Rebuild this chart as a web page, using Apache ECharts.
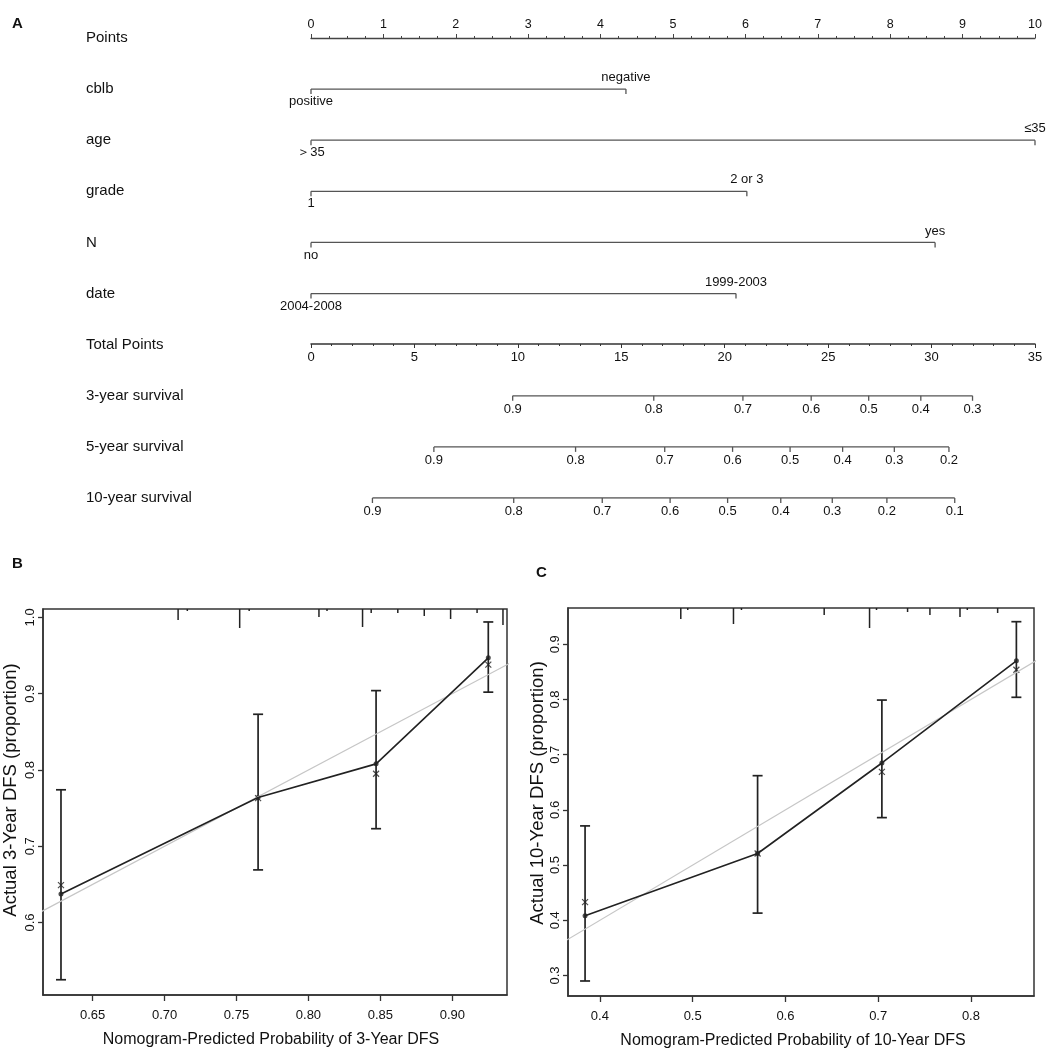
<!DOCTYPE html>
<html><head><meta charset="utf-8">
<script src="https://cdn.jsdelivr.net/npm/echarts@6/dist/echarts.min.js"></script>
<style>html,body{margin:0;padding:0;background:#fff}#c{width:1062px;height:1058px}</style>
</head><body><div id="c"></div>
<script>
// ---------- Panel A: nomogram ----------
const rowNames = ['Points','cblb','age','grade','N','date','Total Points','3-year survival','5-year survival','10-year survival'];
const varNames = ['cblb','age','grade','N','date'];
const varPoints = [4.35, 10, 6.02, 8.62, 5.87];
const varLowLabels = ['positive','＞35','1','no','2004-2008'];
const varHighLabels = ['negative','≤35','2 or 3','yes','1999-2003'];

const surv3Prob = [0.9,0.8,0.7,0.6,0.5,0.4,0.3];
const surv3Pts  = [9.75,16.57,20.88,24.18,26.96,29.48,31.98];
const surv5Prob = [0.9,0.8,0.7,0.6,0.5,0.4,0.3,0.2];
const surv5Pts  = [5.94,12.79,17.10,20.38,23.16,25.70,28.20,30.84];
const surv10Prob = [0.9,0.8,0.7,0.6,0.5,0.4,0.3,0.2,0.1];
const surv10Pts  = [2.97,9.80,14.08,17.36,20.14,22.71,25.20,27.84,31.12];

// ---------- Panel B: 3-year calibration ----------
const predB = [0.628, 0.765, 0.847, 0.925];
const obsB  = [0.6375, 0.764, 0.808, 0.947];
const corrB = [0.649, 0.763, 0.795, 0.938];
const loB   = [0.525, 0.669, 0.723, 0.902];
const hiB   = [0.774, 0.873, 0.904, 0.994];
const rugXB = [0.7094,0.7158,0.7522,0.7588,0.8073,0.8129,0.8376,0.8436,0.8621,0.8805,0.8988,0.9172,0.9352];
const rugFB = [11,2,19,2,8,2,18,4,4,7,10,4,16];
const xTicksB = [0.65,0.70,0.75,0.80,0.85,0.90];
const yTicksB = [0.6,0.7,0.8,0.9,1.0];

// ---------- Panel C: 10-year calibration ----------
const predC = [0.384, 0.570, 0.704, 0.849];
const obsC  = [0.408, 0.521, 0.685, 0.870];
const corrC = [0.433, 0.521, 0.669, 0.854];
const loC   = [0.290, 0.413, 0.586, 0.804];
const hiC   = [0.571, 0.662, 0.799, 0.941];
const rugXC = [0.4872,0.4947,0.5440,0.5526,0.6418,0.6907,0.6982,0.7317,0.7558,0.7882,0.7961,0.8288];
const rugFC = [11,2,16,2,7,20,2,4,7,9,2,5];
const xTicksC = [0.4,0.5,0.6,0.7,0.8];
const yTicksC = [0.3,0.4,0.5,0.6,0.7,0.8,0.9];

const FONT = 'Liberation Sans, Arial, Helvetica, sans-serif';
const INK = '#111';
const NOMO = '#555';

const chart = echarts.init(document.getElementById('c'), null, {renderer:'canvas'});

const series = [];

// variable rows
varNames.forEach((nm, i) => {
  series.push({
    type:'line', xAxisIndex:0, yAxisIndex:0, silent:true, animation:false,
    symbol:'rect', symbolSize:[1.3,5], symbolOffset:[0,2.5],
    itemStyle:{color:NOMO}, lineStyle:{color:NOMO, width:1.3},
    label:{color:INK, fontFamily:FONT, fontSize:13},
    data:[
      {value:[0, nm], label:{show:true, position:'bottom', distance:1, formatter:varLowLabels[i]}},
      {value:[varPoints[i], nm], label:{show:true, position:'top', distance:5, formatter:varHighLabels[i]}}
    ]
  });
});

// survival rows
[[surv3Pts,surv3Prob,'3-year survival'],[surv5Pts,surv5Prob,'5-year survival'],[surv10Pts,surv10Prob,'10-year survival']].forEach(([pts,prob,row]) => {
  series.push({
    type:'line', xAxisIndex:1, yAxisIndex:0, silent:true, animation:false,
    symbol:'rect', symbolSize:[1.3,5], symbolOffset:[0,2.5],
    itemStyle:{color:NOMO}, lineStyle:{color:NOMO, width:1.3},
    label:{show:true, position:'bottom', distance:2, color:INK, fontFamily:FONT, fontSize:13,
      formatter:p => p.value[2].toFixed(1)},
    data: pts.map((p,k) => [p, row, prob[k]])
  });
});

function calSeries(xi, yi, pred, obs, corr, lo, hi, rugX, rugF) {
  const out = [];
  out.push({type:'line', xAxisIndex:xi, yAxisIndex:yi, silent:true, animation:false, symbol:'none',
    lineStyle:{color:'#c6c6c6', width:1.2}, data:[[0,0],[1,1]]});
  out.push({type:'line', xAxisIndex:xi, yAxisIndex:yi, silent:true, animation:false, symbol:'none',
    lineStyle:{color:'#222', width:1.6}, data: pred.map((x,k)=>[x, obs[k]])});
  out.push({type:'custom', xAxisIndex:xi, yAxisIndex:yi, silent:true, animation:false,
    encode:{x:0, y:[1,2]},
    data: pred.map((x,k)=>[x, lo[k], hi[k]]),
    renderItem:(params, api) => {
      const x = api.value(0);
      const a = api.coord([x, api.value(1)]);
      const b = api.coord([x, api.value(2)]);
      const w = 5;
      const st = {stroke:'#222', lineWidth:1.7};
      return {type:'group', children:[
        {type:'line', shape:{x1:a[0], y1:a[1], x2:b[0], y2:b[1]}, style:st},
        {type:'line', shape:{x1:a[0]-w, y1:a[1], x2:a[0]+w, y2:a[1]}, style:st},
        {type:'line', shape:{x1:b[0]-w, y1:b[1], x2:b[0]+w, y2:b[1]}, style:st}
      ]};
    }});
  out.push({type:'scatter', xAxisIndex:xi, yAxisIndex:yi, silent:true, animation:false,
    symbol:'circle', symbolSize:5, itemStyle:{color:'#222'}, data: pred.map((x,k)=>[x, obs[k]])});
  out.push({type:'scatter', xAxisIndex:xi, yAxisIndex:yi, silent:true, animation:false,
    symbol:'path://M0,0L10,10M10,0L0,10', symbolSize:6,
    itemStyle:{color:'none', borderColor:'#222', borderWidth:1.2}, data: pred.map((x,k)=>[x, corr[k]])});
  out.push({type:'custom', xAxisIndex:xi, yAxisIndex:yi, silent:true, animation:false,
    encode:{x:0},
    data: rugX.map((x,k)=>[x, rugF[k]]),
    renderItem:(params, api) => {
      const top = params.coordSys.y;
      const px = api.coord([api.value(0), 0.5])[0];
      return {type:'line', shape:{x1:px, y1:top, x2:px, y2:top+api.value(1)}, style:{stroke:'#222', lineWidth:1.5}};
    }});
  return out;
}
series.push(...calSeries(3, 2, predB, obsB, corrB, loB, hiB, rugXB, rugFB));
series.push(...calSeries(4, 3, predC, obsC, corrC, loC, hiC, rugXC, rugFC));

function calX(grid, min, max, ticks, dec, name, shift) {
  return {gridIndex:grid, type:'value', min:min, max:max,
    axisLine:{show:true, lineStyle:{color:'#333', width:1.5}},
    axisTick:{show:true, customValues:ticks, length:6, lineStyle:{color:'#333', width:1.3}},
    axisLabel:{customValues:ticks, formatter:v=>v.toFixed(dec), margin:14, fontSize:13, color:INK, fontFamily:FONT},
    splitLine:{show:false},
    name:name, nameLocation:'middle', nameGap:37,
    nameTextStyle:{fontSize:16, color:INK, fontFamily:FONT, padding:[0, shift, 0, 0]}};
}
function calY(grid, min, max, ticks, name, gap, shift) {
  return {gridIndex:grid, type:'value', min:min, max:max,
    axisLine:{show:true, lineStyle:{color:'#333', width:1.5}},
    axisTick:{show:true, customValues:ticks, length:5, lineStyle:{color:'#333', width:1.3}},
    axisLabel:{customValues:ticks, formatter:v=>v.toFixed(1), rotate:90, margin:6, fontSize:13, color:INK, fontFamily:FONT},
    splitLine:{show:false},
    name:name, nameLocation:'middle', nameGap:gap,
    nameTextStyle:{fontSize:18.5, color:INK, fontFamily:FONT, padding:[0, 0, 0, shift]}};
}

const option = {
  backgroundColor:'#fff',
  animation:false,
  textStyle:{fontFamily:FONT},
  graphic:[
    {type:'text', left:12, top:16, style:{text:'A', font:'bold 15px '+FONT, fill:INK}},
    {type:'text', left:12, top:556, style:{text:'B', font:'bold 15px '+FONT, fill:INK}},
    {type:'text', left:536, top:565, style:{text:'C', font:'bold 15px '+FONT, fill:INK}}
  ],
  grid:[
    {left:311, right:27, top:38, height:460},
    {left:311, right:27, top:343, height:1},
    {left:42, top:609, width:465, height:386, show:true, borderColor:'#333', borderWidth:1.5},
    {left:568, top:608, width:466, height:388, show:true, borderColor:'#333', borderWidth:1.5}
  ],
  xAxis:[
    {gridIndex:0, type:'value', position:'top', min:0, max:10, interval:1,
      axisLine:{show:true, onZero:false, lineStyle:{color:'#444', width:1.3}},
      axisTick:{show:true, length:4, lineStyle:{color:'#444'}},
      minorTick:{show:true, splitNumber:4, length:2, lineStyle:{color:'#444'}},
      axisLabel:{margin:7, fontSize:12.5, color:INK, fontFamily:FONT},
      splitLine:{show:false}},
    {gridIndex:0, type:'value', min:0, max:35, show:false},
    {gridIndex:1, type:'value', position:'bottom', min:0, max:35, interval:5,
      axisLine:{show:true, onZero:false, lineStyle:{color:'#333', width:1.5}},
      axisTick:{show:true, length:4, lineStyle:{color:'#333'}},
      minorTick:{show:true, splitNumber:5, length:2, lineStyle:{color:'#333'}},
      axisLabel:{margin:7, fontSize:13, color:INK, fontFamily:FONT},
      splitLine:{show:false}},
    calX(2, 0.6155, 0.938, xTicksB, 2, 'Nomogram-Predicted Probability of 3-Year DFS', 8),
    calX(3, 0.3656, 0.868, xTicksC, 1, 'Nomogram-Predicted Probability of 10-Year DFS', 16)
  ],
  yAxis:[
    {gridIndex:0, type:'category', data:rowNames, inverse:true, boundaryGap:false,
      axisLine:{show:false}, axisTick:{show:false}, splitLine:{show:false},
      axisLabel:{interval:0, align:'left', margin:225, fontSize:15, color:INK, fontFamily:FONT}},
    {gridIndex:1, type:'value', show:false, min:0, max:1},
    calY(2, 0.505, 1.011, yTicksB, 'Actual 3-Year DFS (proportion)', 23, 24),
    calY(3, 0.2628, 0.9658, yTicksC, 'Actual 10-Year DFS (proportion)', 21, 18)
  ],
  series: series
};
chart.setOption(option);
</script>
</body></html>
